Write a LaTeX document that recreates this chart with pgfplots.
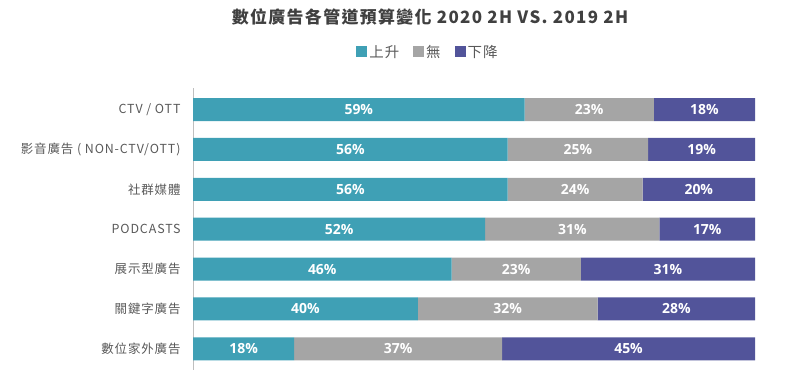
\documentclass[border=0pt]{standalone}
\usepackage{pgfplots}
\pgfplotsset{compat=1.18}
\usepackage{fontspec}
\setmainfont{Noto Sans CJK TC}
\newfontfamily\labfont{Noto Sans CJK TC}[LetterSpace=7]
\newfontfamily\ttlfont{Noto Sans CJK TC}[LetterSpace=8]
\newfontfamily\numfont{Open Sans}
\definecolor{cUp}{HTML}{3FA0B5}
\definecolor{cNo}{HTML}{A5A5A5}
\definecolor{cDn}{HTML}{52549A}
\definecolor{txt}{HTML}{595959}
\definecolor{ttl}{HTML}{404040}
\begin{document}
\begin{tikzpicture}[x=1bp,y=1bp]
\useasboundingbox (0,0) rectangle (800,374);
\node[font=\fontsize{17}{20}\selectfont\bfseries\ttlfont, text=ttl] at (430,357) {數位廣告各管道預算變化 2020 2H VS. 2019 2H};
\begin{axis}[
  at={(193bp,4bp)}, anchor=south west,
  scale only axis, width=562bp, height=282bp,
  xbar stacked, bar width=23bp,
  xmin=0, xmax=100,
  ymin=-0.54, ymax=6.53, y dir=reverse,
  ytick={0,...,6},
  yticklabels={CTV / OTT, 影音廣告 ( NON-CTV/OTT), 社群媒體, PODCASTS, 展示型廣告, 關鍵字廣告, 數位家外廣告},
  yticklabel style={font=\fontsize{12.5}{14}\selectfont\labfont, text=txt, xshift=-9bp},
  major tick length=0pt,
  hide x axis,
  axis y line*=left,
  y axis line style={draw=black!25, line width=0.8pt},
  legend columns=3,
  legend style={draw=none, at={(0.418,1.128)}, anchor=center, font=\fontsize{14.5}{16}\selectfont\labfont, text=txt, /tikz/every even column/.append style={column sep=12bp}},
  legend image code/.code={\fill[#1] (0bp,-5.5bp) rectangle (11bp,5.5bp);},
  visualization depends on=rawx \as \rawx,
  nodes near coords={\pgfmathprintnumber[fixed,precision=0,assume math mode=true]{\rawx}\%},
  every node near coord/.append style={font=\fontsize{14}{16}\selectfont\numfont\bfseries, text=white, anchor=center},
]
\addplot[fill=cUp, draw=none] coordinates {(59,0) (56,1) (56,2) (52,3) (46,4) (40,5) (18,6)};
\addplot[fill=cNo, draw=none] coordinates {(23,0) (25,1) (24,2) (31,3) (23,4) (32,5) (37,6)};
\addplot[fill=cDn, draw=none] coordinates {(18,0) (19,1) (20,2) (17,3) (31,4) (28,5) (45,6)};
\legend{上升, 無, 下降}
\end{axis}
\end{tikzpicture}
\end{document}
